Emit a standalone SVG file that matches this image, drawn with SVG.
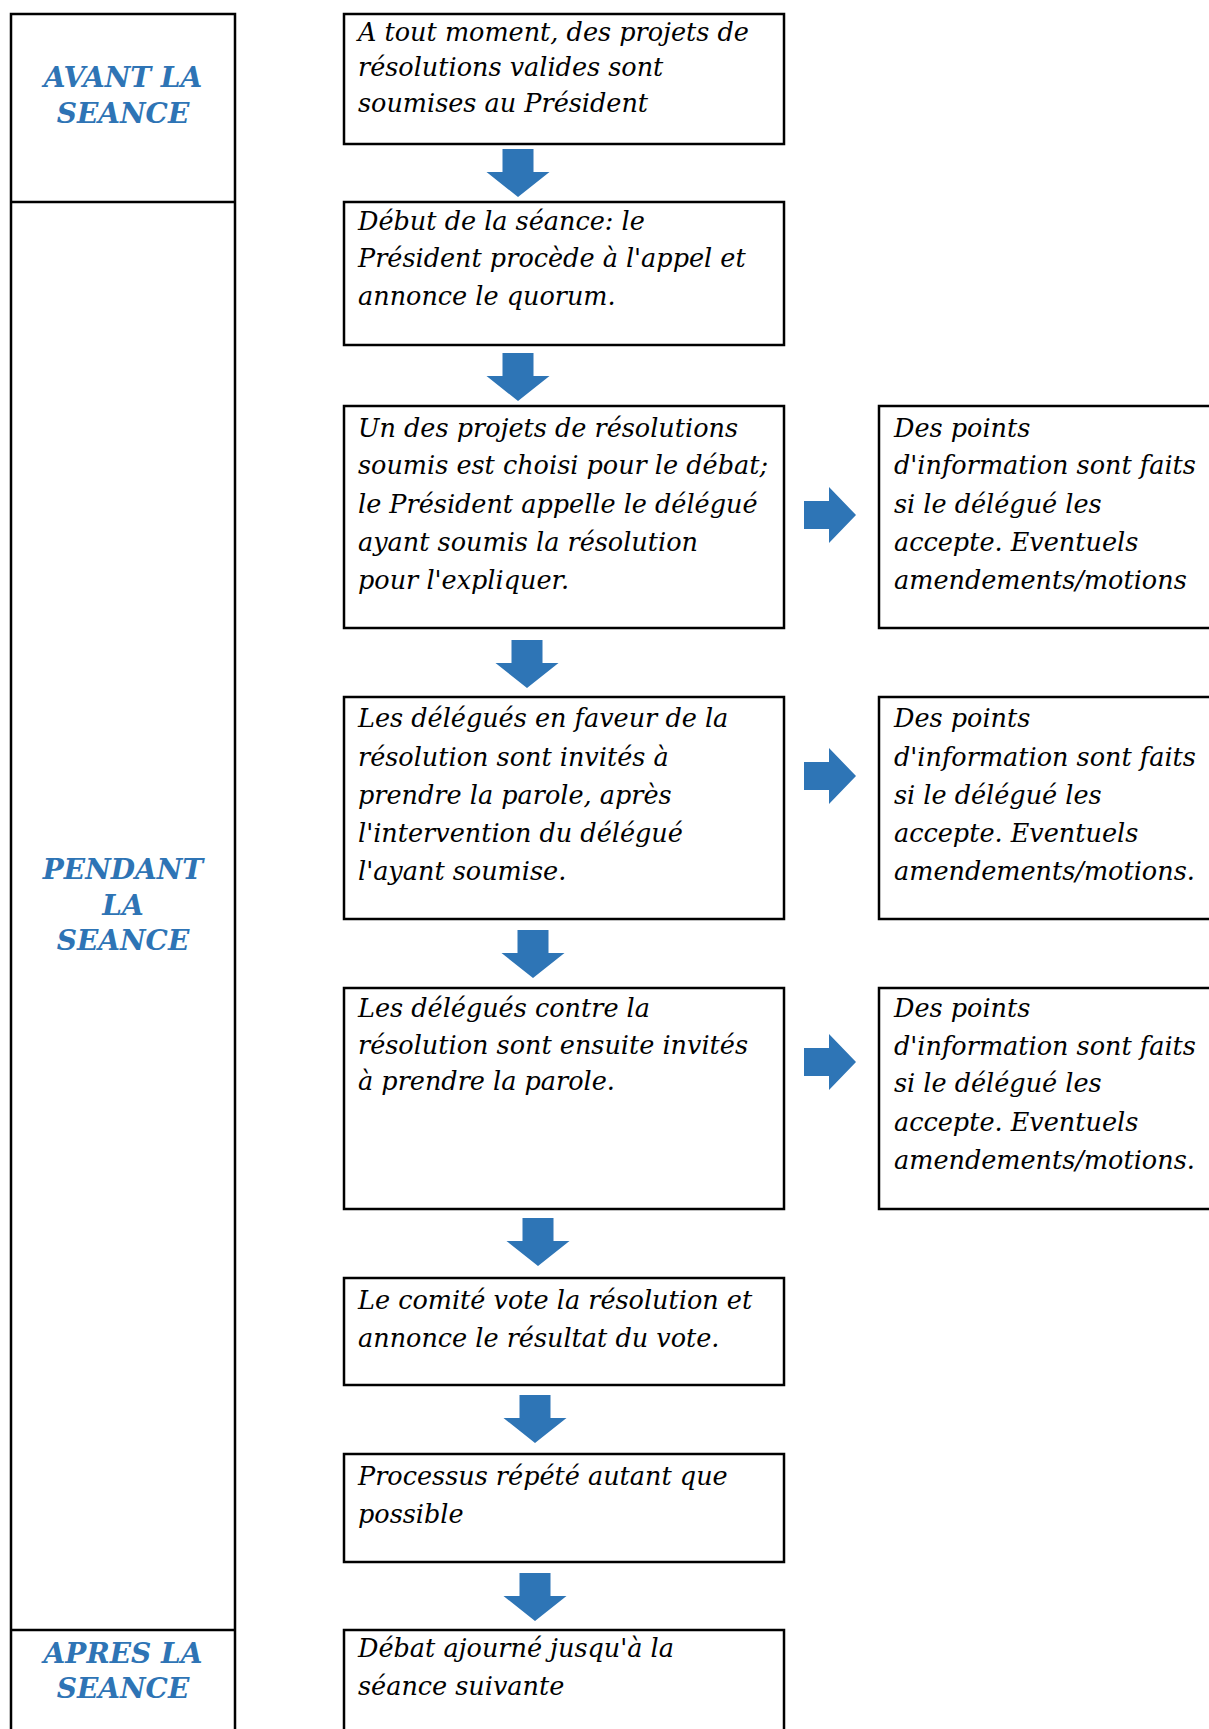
<svg xmlns="http://www.w3.org/2000/svg" width="1209" height="1729" viewBox="0 0 1209 1729">
<style>
.box{fill:#fff;stroke:#000;stroke-width:2.5}
.ln{stroke:#000;stroke-width:2.5;fill:none}
.t{font-family:"DejaVu Serif","Liberation Serif",serif;font-style:italic;font-size:25.5px;fill:#000}
.h{font-family:"DejaVu Serif","Liberation Serif",serif;font-style:italic;font-weight:bold;font-size:28px;fill:#2E74B5;text-anchor:middle}
.arr{fill:#2E75B6}
</style>
<defs>
<path id="down" d="M-15.5,0 H15.5 V23 H31.5 L0,48 L-31.5,23 H-15.5 Z"/>
<path id="right" d="M0,-14 H25 V-28 L52,0 L25,28 V14 H0 Z"/>
</defs>
<rect width="1209" height="1729" fill="#fff"/>

<g id="phases">
<g id="phase-avant">
<path class="ln" d="M11,1740 V14 H235 V1740"/>
<path class="ln" d="M11,202 H235"/>
<text class="h" x="123" y="87">AVANT LA</text>
<text class="h" x="123" y="123">SEANCE</text>
</g>
<g id="phase-pendant">
<path class="ln" d="M11,1630 H235"/>
<text class="h" x="123" y="879">PENDANT</text>
<text class="h" x="123" y="915">LA</text>
<text class="h" x="123" y="950">SEANCE</text>
</g>
<g id="phase-apres">
<text class="h" x="123" y="1663">APRES LA</text>
<text class="h" x="123" y="1698">SEANCE</text>
</g>
</g>

<g id="connectors">
<use href="#down" class="arr" x="518" y="149"/>
<use href="#down" class="arr" x="518" y="353"/>
<use href="#down" class="arr" x="527" y="640"/>
<use href="#down" class="arr" x="533" y="930"/>
<use href="#down" class="arr" x="538" y="1218"/>
<use href="#down" class="arr" x="535" y="1395"/>
<use href="#down" class="arr" x="535" y="1573"/>
<use href="#right" class="arr" x="804" y="515"/>
<use href="#right" class="arr" x="804" y="776"/>
<use href="#right" class="arr" x="804" y="1062"/>
</g>

<g id="n1">
<rect class="box" x="344" y="14" width="440" height="130"/>
<text class="t" x="358" y="41">A tout moment, des projets de</text>
<text class="t" x="358" y="76">résolutions valides sont</text>
<text class="t" x="358" y="112">soumises au Président</text>
</g>
<g id="n2">
<rect class="box" x="344" y="202" width="440" height="143"/>
<text class="t" x="358" y="230">Début de la séance: le</text>
<text class="t" x="358" y="267">Président procède à l'appel et</text>
<text class="t" x="358" y="305">annonce le quorum.</text>
</g>
<g id="n3">
<rect class="box" x="344" y="406" width="440" height="222"/>
<text class="t" x="358" y="437">Un des projets de résolutions</text>
<text class="t" x="358" y="474">soumis est choisi pour le débat;</text>
<text class="t" x="358" y="513">le Président appelle le délégué</text>
<text class="t" x="358" y="551">ayant soumis la résolution</text>
<text class="t" x="358" y="589">pour l'expliquer.</text>
</g>
<g id="n3r">
<rect class="box" x="879" y="406" width="340" height="222"/>
<text class="t" x="894" y="437">Des points</text>
<text class="t" x="894" y="474">d'information sont faits</text>
<text class="t" x="894" y="513">si le délégué les</text>
<text class="t" x="894" y="551">accepte. Eventuels</text>
<text class="t" x="894" y="589">amendements/motions</text>
</g>
<g id="n4">
<rect class="box" x="344" y="697" width="440" height="222"/>
<text class="t" x="358" y="727">Les délégués en faveur de la</text>
<text class="t" x="358" y="766">résolution sont invités à</text>
<text class="t" x="358" y="804">prendre la parole, après</text>
<text class="t" x="358" y="842">l'intervention du délégué</text>
<text class="t" x="358" y="880">l'ayant soumise.</text>
</g>
<g id="n4r">
<rect class="box" x="879" y="697" width="340" height="222"/>
<text class="t" x="894" y="727">Des points</text>
<text class="t" x="894" y="766">d'information sont faits</text>
<text class="t" x="894" y="804">si le délégué les</text>
<text class="t" x="894" y="842">accepte. Eventuels</text>
<text class="t" x="894" y="880">amendements/motions.</text>
</g>
<g id="n5">
<rect class="box" x="344" y="988" width="440" height="221"/>
<text class="t" x="358" y="1017">Les délégués contre la</text>
<text class="t" x="358" y="1054">résolution sont ensuite invités</text>
<text class="t" x="358" y="1090">à prendre la parole.</text>
</g>
<g id="n5r">
<rect class="box" x="879" y="988" width="340" height="221"/>
<text class="t" x="894" y="1017">Des points</text>
<text class="t" x="894" y="1055">d'information sont faits</text>
<text class="t" x="894" y="1092">si le délégué les</text>
<text class="t" x="894" y="1131">accepte. Eventuels</text>
<text class="t" x="894" y="1169">amendements/motions.</text>
</g>
<g id="n6">
<rect class="box" x="344" y="1278" width="440" height="107"/>
<text class="t" x="358" y="1309">Le comité vote la résolution et</text>
<text class="t" x="358" y="1347">annonce le résultat du vote.</text>
</g>
<g id="n7">
<rect class="box" x="344" y="1454" width="440" height="108"/>
<text class="t" x="358" y="1485">Processus répété autant que</text>
<text class="t" x="358" y="1523">possible</text>
</g>
<g id="n8">
<rect class="box" x="344" y="1630" width="440" height="120"/>
<text class="t" x="358" y="1657">Débat ajourné jusqu'à la</text>
<text class="t" x="358" y="1695">séance suivante</text>
</g>
</svg>
